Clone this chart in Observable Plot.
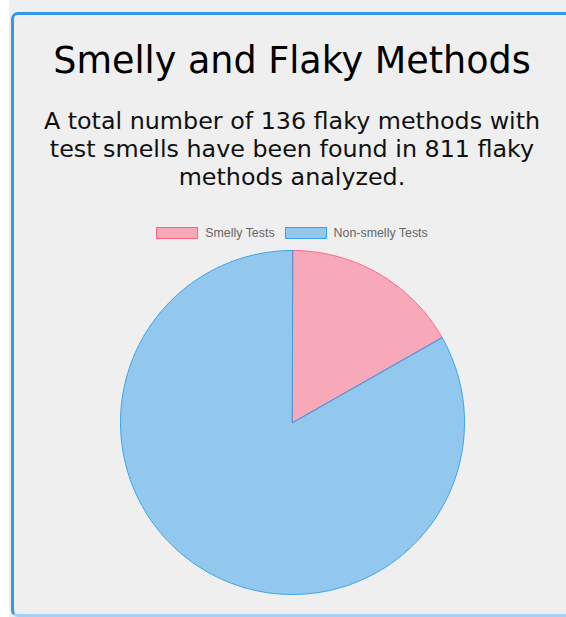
<!DOCTYPE html>
<html>
<head>
<meta charset="utf-8">
<script src="https://cdn.jsdelivr.net/npm/d3@7"></script>
<script src="https://cdn.jsdelivr.net/npm/@observablehq/plot@0.6"></script>
<style>
  html, body { margin: 0; padding: 0; }
  body {
    width: 566px; height: 617px; overflow: hidden; position: relative;
    background: #efefef;
    font-family: "DejaVu Sans", Verdana, sans-serif;
  }
  #strip { position: absolute; left: 0; top: 0; width: 9px; height: 617px; background: #fff; }
  #card {
    position: absolute; left: 11px; top: 12px;
    width: 562px; height: 605px; box-sizing: border-box;
    border: 3px solid #3198ea; border-bottom-color: #a3d1f5;
    border-radius: 7px; background: #efefef;
  }
  #title {
    position: absolute; left: 0; top: 25.4px; width: 556px;
    text-align: center; font-size: 36.5px; line-height: 42px; color: #000;
    white-space: nowrap;
  }
  #subtitle {
    position: absolute; left: 0; top: 91.7px; width: 556px;
    text-align: center; font-size: 23.8px; line-height: 28px; color: #111;
  }
  #subtitle div { white-space: nowrap; }
  #legend {
    position: absolute; left: 0; top: 211px; width: 556px;
    display: flex; justify-content: center; align-items: center;
    font-family: "Liberation Sans", Arial, sans-serif; font-size: 12.4px; color: #666;
  }
  .item { display: flex; align-items: center; margin: 0 5px; }
  .swatch { width: 40px; height: 10px; border: 1px solid; margin-right: 7px; }
  #pie { position: absolute; left: 105px; top: 233.7px; }
</style>
</head>
<body>
<div id="strip"></div>
<div id="card">
  <div id="title"></div>
  <div id="subtitle"></div>
  <div id="legend"></div>
  <div id="pie"></div>
</div>
<script>
// Flaky methods split by whether they contain test smells
const titleText = "Smelly and Flaky Methods";
const subtitleLines = [
  "A total number of 136 flaky methods with",
  "test smells have been found in 811 flaky",
  "methods analyzed."
];
const categories = ["Smelly Tests", "Non-smelly Tests"];
const counts = [136, 675];
const fills = ["rgba(255, 99, 132, 0.5)", "rgba(54, 162, 235, 0.5)"];
const strokes = ["rgb(255, 99, 132)", "rgb(54, 162, 235)"];

document.getElementById("title").textContent = titleText;
const sub = document.getElementById("subtitle");
for (const line of subtitleLines) {
  const d = document.createElement("div");
  d.textContent = line;
  sub.appendChild(d);
}

const legend = document.getElementById("legend");
categories.forEach((c, i) => {
  const item = document.createElement("div");
  item.className = "item";
  const sw = document.createElement("div");
  sw.className = "swatch";
  sw.style.background = fills[i];
  sw.style.borderColor = strokes[i];
  const label = document.createElement("span");
  label.textContent = c;
  item.appendChild(sw);
  item.appendChild(label);
  legend.appendChild(item);
});

// Slice angles, clockwise from twelve o'clock
const arcs = d3.pie().sort(null).value((d) => d.count)(
  categories.map((label, i) => ({label, count: counts[i]}))
);

// Outline of each slice in unit-circle coordinates: centre, then along the arc
function sliceOutline(a) {
  const pts = [{x: 0, y: 0}];
  const n = Math.max(2, Math.ceil((a.endAngle - a.startAngle) / (Math.PI / 360)));
  for (let k = 0; k <= n; k++) {
    const t = a.startAngle + (a.endAngle - a.startAngle) * k / n;
    pts.push({x: Math.sin(t), y: Math.cos(t)});
  }
  return pts;
}

const size = 346;
const chart = Plot.plot({
  width: size,
  height: size,
  margin: 1,
  x: {domain: [-1, 1], axis: null},
  y: {domain: [-1, 1], axis: null},
  style: {background: "transparent", overflow: "visible"},
  marks: arcs.map((a, i) =>
    Plot.line(sliceOutline(a), {
      x: "x",
      y: "y",
      curve: "linear-closed",
      fill: fills[i],
      stroke: strokes[i],
      strokeWidth: 1,
      strokeLinejoin: "round"
    })
  )
});
document.getElementById("pie").appendChild(chart);
</script>
</body>
</html>
